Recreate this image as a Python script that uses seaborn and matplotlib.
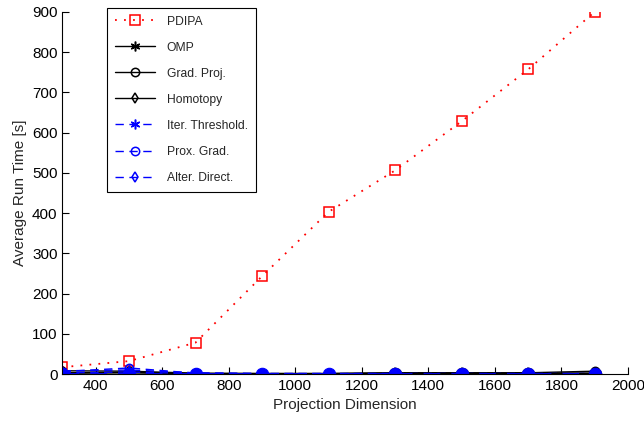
import matplotlib
matplotlib.use("Agg")
import matplotlib.pyplot as plt
import seaborn as sns
import pandas as pd

sns.set_style("white")
plt.rcParams['font.family'] = ['Liberation Sans', 'DejaVu Sans']

dims = [300, 500, 700, 900, 1100, 1300, 1500, 1700, 1900]
pdipa = [17, 32, 78, 243, 403, 506, 628, 757, 900]
omp = [2, 3, 1, 1, 1, 2, 2, 2, 2]
grad_proj = [8, 7, 2, 1, 1, 3, 3, 3, 7]
homotopy = [3, 4, 1, 1, 1, 2, 2, 2, 1]
iter_thr = [8, 10, 3, 1, 1, 1, 1, 1, 1]
prox_grad = [6, 15, 2, 1, 1, 1, 1, 1, 1]
alter_dir = [3, 5, 1, 1, 1, 1, 1, 1, 1]
fast_dots = [1, 1, 1, 1, 1, 1, 1, 1, 1]

x_ticks = [400, 600, 800, 1000, 1200, 1400, 1600, 1800, 2000]
y_ticks = [0, 100, 200, 300, 400, 500, 600, 700, 800, 900]

fig = plt.figure(figsize=(6.44, 4.25), dpi=100)
ax = fig.add_axes([0.097, 0.12, 0.878, 0.852])

dash = (0, (6, 4))
asterisk = (6, 2, 0)
series = [
    ("PDIPA", pdipa, "red", (0, (1, 4)), "s", 7, 1.3),
    ("OMP", omp, "black", "-", asterisk, 7, 1.0),
    ("Grad. Proj.", grad_proj, "black", "-", "o", 6, 1.0),
    ("Homotopy", homotopy, "black", "-", "d", 5, 1.0),
    ("Iter. Threshold.", iter_thr, "blue", dash, asterisk, 7, 1.0),
    ("Prox. Grad.", prox_grad, "blue", dash, "o", 6, 1.0),
    ("Alter. Direct.", alter_dir, "blue", dash, "d", 5, 1.0),
]

handles = []
labels = []
for label, vals, color, ls, mk, ms, lw in series:
    df = pd.DataFrame({"x": dims, "y": vals})
    n_before = len(ax.lines)
    sns.lineplot(data=df, x="x", y="y", ax=ax, legend=False, color=color,
                 marker=mk, markersize=ms, markerfacecolor="none",
                 markeredgecolor=color, markeredgewidth=1.1, linewidth=lw)
    line = ax.lines[n_before]
    line.set_linestyle(ls)
    handles.append(line)
    labels.append(label)

# filled markers at the bottom (unlabelled)
df_black = pd.DataFrame({"x": dims[5:], "y": fast_dots[5:]})
sns.lineplot(data=df_black, x="x", y="y", ax=ax, color="black", marker="o", markersize=9,
             markeredgecolor="black", linewidth=2.5, legend=False)
df_dots = pd.DataFrame({"x": dims, "y": fast_dots})
sns.lineplot(data=df_dots, x="x", y="y", ax=ax, color="blue", marker="o", markersize=9,
             markeredgecolor="blue", linewidth=2, legend=False)
ax.lines[-1].set_linestyle(dash)

ax.set_xlim(300, 2000)
ax.set_ylim(0, 900)
ax.set_xticks(x_ticks)
ax.set_yticks(y_ticks)
ax.tick_params(direction="in", length=5, width=0.8, labelsize=11, colors="black",
               left=True, bottom=True)
for s in ["top", "right"]:
    ax.spines[s].set_visible(False)
for s in ["left", "bottom"]:
    ax.spines[s].set_color("black")
    ax.spines[s].set_linewidth(0.8)
ax.set_xlabel("Projection Dimension", fontsize=11)
ax.set_ylabel("Average Run Time [s]", fontsize=11)

leg = ax.legend(handles, labels, loc="upper left", bbox_to_anchor=(0.068, 1.028), fontsize=8.7,
                frameon=True, fancybox=False, edgecolor="black", framealpha=1,
                labelspacing=1.16, handlelength=3.3, borderpad=0.65, handletextpad=1.0)
leg.get_frame().set_linewidth(0.8)

fig.savefig("out.png", dpi=100)
